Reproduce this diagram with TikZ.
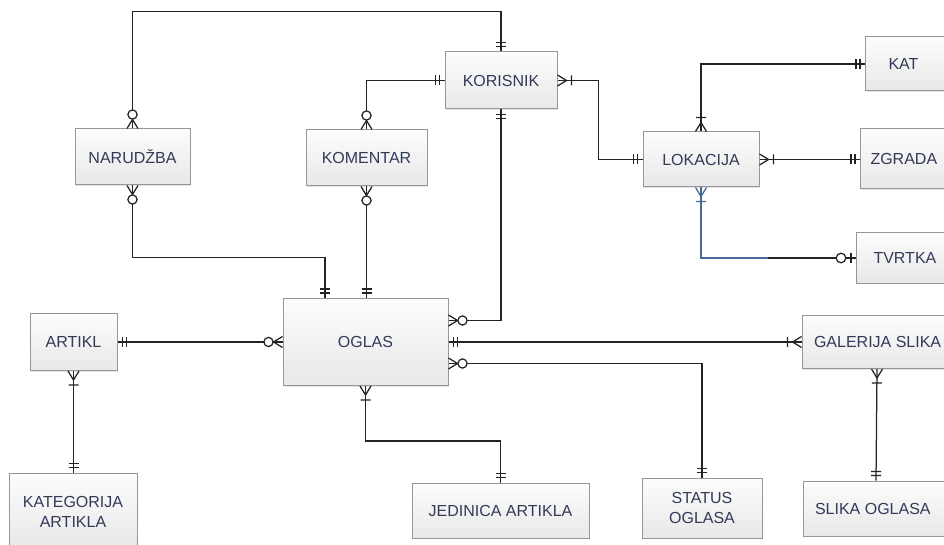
\documentclass[tikz,border=0pt]{standalone}
\usepackage{fontspec}
\setmainfont{Liberation Sans}
\usetikzlibrary{calc,shadows}

\definecolor{txt}{RGB}{50,58,88}
\definecolor{bord}{RGB}{150,150,150}
\definecolor{ln}{RGB}{35,35,35}
\definecolor{blu}{RGB}{72,104,150}

% one and only one (double bar)
\pgfdeclarearrow{
  name=ERone,
  setup code={
    \pgfarrowssettipend{0pt}
    \pgfarrowssetlineend{0pt}
    \pgfarrowssetbackend{-10pt}
    \pgfarrowshullpoint{0pt}{5pt}
    \pgfarrowshullpoint{0pt}{-5pt}
    \pgfarrowshullpoint{-10pt}{5pt}
    \pgfarrowshullpoint{-10pt}{-5pt}
  },
  drawing code={
    \pgfpathmoveto{\pgfpoint{-5pt}{-5pt}}
    \pgfpathlineto{\pgfpoint{-5pt}{5pt}}
    \pgfpathmoveto{\pgfpoint{-9pt}{-5pt}}
    \pgfpathlineto{\pgfpoint{-9pt}{5pt}}
    \pgfusepathqstroke
  }
}
% one or many (crow's foot + bar)
\pgfdeclarearrow{
  name=ERom,
  setup code={
    \pgfarrowssettipend{0pt}
    \pgfarrowssetlineend{0pt}
    \pgfarrowssetbackend{-15pt}
    \pgfarrowshullpoint{0pt}{5.5pt}
    \pgfarrowshullpoint{0pt}{-5.5pt}
    \pgfarrowshullpoint{-15pt}{5pt}
    \pgfarrowshullpoint{-15pt}{-5pt}
  },
  drawing code={
    \pgfpathmoveto{\pgfpoint{0pt}{5.5pt}}
    \pgfpathlineto{\pgfpoint{-9pt}{0pt}}
    \pgfpathlineto{\pgfpoint{0pt}{-5.5pt}}
    \pgfpathmoveto{\pgfpoint{-14pt}{-5pt}}
    \pgfpathlineto{\pgfpoint{-14pt}{5pt}}
    \pgfusepathqstroke
  }
}
% zero or many (crow's foot + circle)
\pgfdeclarearrow{
  name=ERzm,
  setup code={
    \pgfarrowssettipend{0pt}
    \pgfarrowssetlineend{0pt}
    \pgfarrowssetbackend{-19pt}
    \pgfarrowshullpoint{0pt}{5.5pt}
    \pgfarrowshullpoint{0pt}{-5.5pt}
    \pgfarrowshullpoint{-19pt}{5pt}
    \pgfarrowshullpoint{-19pt}{-5pt}
  },
  drawing code={
    \pgfpathmoveto{\pgfpoint{0pt}{5.5pt}}
    \pgfpathlineto{\pgfpoint{-9pt}{0pt}}
    \pgfpathlineto{\pgfpoint{0pt}{-5.5pt}}
    \pgfusepathqstroke
    \pgfpathcircle{\pgfpoint{-14pt}{0pt}}{4.6pt}
    \pgfsetfillcolor{white}
    \pgfusepathqfillstroke
  }
}
% zero or one (bar + circle)
\pgfdeclarearrow{
  name=ERzo,
  setup code={
    \pgfarrowssettipend{0pt}
    \pgfarrowssetlineend{0pt}
    \pgfarrowssetbackend{-20pt}
    \pgfarrowshullpoint{0pt}{5pt}
    \pgfarrowshullpoint{0pt}{-5pt}
    \pgfarrowshullpoint{-20pt}{5pt}
    \pgfarrowshullpoint{-20pt}{-5pt}
  },
  drawing code={
    \pgfpathmoveto{\pgfpoint{-5pt}{-5pt}}
    \pgfpathlineto{\pgfpoint{-5pt}{5pt}}
    \pgfusepathqstroke
    \pgfpathcircle{\pgfpoint{-15pt}{0pt}}{4.8pt}
    \pgfsetfillcolor{white}
    \pgfusepathqfillstroke
  }
}

\tikzset{
  box/.style={draw=bord, line width=1pt, top color=black!1, bottom color=black!9,
    text=txt, inner sep=0pt, font=\fontsize{16}{20}\selectfont, align=center,
    drop shadow={shadow xshift=1pt, shadow yshift=-1pt, opacity=0.2}},
  conn/.style={draw=ln, line width=1.25pt}
}

\begin{document}
\begin{tikzpicture}[x=1pt,y=-1pt]
\useasboundingbox (0,0) rectangle (944,545);
\clip (0,0) rectangle (944,545);
\fill[white] (0,0) rectangle (944,545);

% entities
\node[box, minimum width=112pt, minimum height=57pt] (korisnik) at (501,80.5) {KORISNIK};
\node[box, minimum width=115pt, minimum height=56pt] (narudzba) at (132.5,157) {NARUDŽBA};
\node[box, minimum width=121pt, minimum height=56pt] (komentar) at (366.5,158) {KOMENTAR};
\node[box, minimum width=165pt, minimum height=87pt] (oglas) at (365.5,342) {OGLAS};
\node[box, minimum width=116pt, minimum height=55pt] (lokacija) at (701,159.5) {LOKACIJA};
\node[box, minimum height=54pt, anchor=west, inner xsep=23pt] (kat) at (865,64) {\makebox[70pt][l]{KAT}};
\node[box, minimum height=60pt, anchor=west, inner xsep=10pt] (zgrada) at (860,159) {\makebox[80pt][l]{ZGRADA}};
\node[box, minimum height=50pt, anchor=west, inner xsep=17pt] (tvrtka) at (856,258) {\makebox[80pt][l]{TVRTKA}};
\node[box, minimum height=53pt, inner xsep=12pt] (galerija) at (877,342) {\makebox[126pt][l]{GALERIJA SLIKA}};
\node[box, minimum height=55pt, inner xsep=12pt] (slika) at (876,508.5) {\makebox[122pt][l]{SLIKA OGLASA}};
\node[box, minimum width=87pt, minimum height=57pt] (artikl) at (73.5,342) {ARTIKL};
\node[box, minimum width=128pt, minimum height=77pt] (kategorija) at (73,511.5) {KATEGORIJA\\ARTIKLA};
\node[box, minimum width=177pt, minimum height=55pt] (jedinica) at (500.5,510.5) {JEDINICA ARTIKLA};
\node[box, minimum width=120pt, minimum height=60pt] (status) at (702,508) {STATUS\\OGLASA};

% relationships
\draw[conn, ERzm-ERone] (narudzba.north) |- ($(korisnik.north)+(0,-40)$) -- (korisnik.north);
\draw[conn, ERzm-ERone] (komentar.north) |- (korisnik.west);
\draw[conn, ERom-ERone] (korisnik.east) -- ++(41,0) |- (lokacija.west);
\draw[conn, ERone-ERzm] (korisnik.south) |- ([yshift=21.5pt]oglas.east);
\draw[conn, ERzm-ERone] (narudzba.south) -- ++(0,72) -| ([xshift=-40.5pt]oglas.north);
\draw[conn, ERzm-ERone] (komentar.south) -- (komentar.south |- oglas.north);
\draw[conn, ERone-ERzm] (artikl.east) -- (oglas.west);
\draw[conn, ERone-ERom] (oglas.east) -- (galerija.west);
\draw[conn, ERzm-ERone] ([yshift=-21.5pt]oglas.east) -| (status.north);
\draw[conn, ERom-ERone] (oglas.south) -- ++(0,55) -| (jedinica.north);
\draw[conn, ERom-ERone] (artikl.south) -- (artikl.south |- kategorija.north);
\draw[conn, ERom-ERone] (galerija.south) -- (slika.north);
\draw[conn, ERom-ERone] (lokacija.north) |- (kat.west);
\draw[conn, ERom-ERone] (lokacija.east) -- (lokacija.east -| zgrada.west);
\coordinate (split) at ($(tvrtka.west)+(-88,0)$);
\draw[conn, draw=blu, ERom-] (lokacija.south) |- (split);
\draw[conn, -ERzo] (split) -- (tvrtka.west);
\end{tikzpicture}
\end{document}
